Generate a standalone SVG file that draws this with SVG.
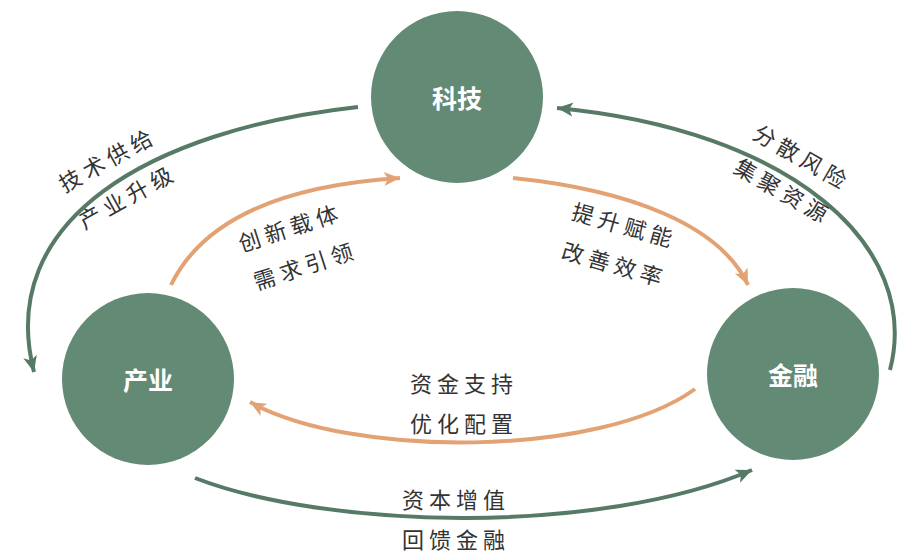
<svg xmlns="http://www.w3.org/2000/svg" width="912" height="555" viewBox="0 0 912 555">
<defs>
<style>
.node{fill:#638a74;}
.nlabel{font-family:"Noto Sans CJK SC","Noto Sans",sans-serif;font-weight:bold;font-size:25px;fill:#ffffff;text-anchor:middle;dominant-baseline:central;}
.elabel{font-family:"Noto Sans CJK SC","Noto Sans",sans-serif;font-weight:normal;font-size:22px;fill:#333333;text-anchor:middle;dominant-baseline:central;letter-spacing:5px;}
.g{fill:none;stroke:#567a66;stroke-width:4;}
.o{fill:none;stroke:#e3a273;stroke-width:4;}
</style>
<marker id="ag" markerUnits="userSpaceOnUse" markerWidth="20" markerHeight="16" refX="16" refY="7" orient="auto" viewBox="0 0 20 14">
<path d="M0,0 L16,7 L0,14 L4,7 Z" fill="#567a66"/>
</marker>
<marker id="ao" markerUnits="userSpaceOnUse" markerWidth="20" markerHeight="16" refX="16" refY="7" orient="auto" viewBox="0 0 20 14">
<path d="M0,0 L16,7 L0,14 L4,7 Z" fill="#e3a273"/>
</marker>
</defs>
<rect width="912" height="555" fill="#ffffff"/>
<g id="connectors">
<path class="g" d="M358,107 C150,130 -5,220 34,372" marker-end="url(#ag)"/>
<path class="g" d="M890,370 C922,245 790,130 557,108" marker-end="url(#ag)"/>
<path class="o" d="M171,285 C205,215 290,185 400,178" marker-end="url(#ao)"/>
<path class="o" d="M513,178 C630,190 720,225 748,285" marker-end="url(#ao)"/>
<path class="o" d="M695,389 C600,458 350,458 250,402" marker-end="url(#ao)"/>
<path class="g" d="M195,478 C330,530 600,535 752,470" marker-end="url(#ag)"/>
</g>
<g id="labels">
<text class="elabel" transform="translate(107,158) rotate(-29)">技术供给</text>
<text class="elabel" transform="translate(127,195) rotate(-29)">产业升级</text>
<text class="elabel" transform="translate(290,226) rotate(-18)">创新载体</text>
<text class="elabel" transform="translate(305,264) rotate(-18)">需求引领</text>
<text class="elabel" transform="translate(625,224) rotate(16)">提升赋能</text>
<text class="elabel" transform="translate(615,263) rotate(16)">改善效率</text>
<text class="elabel" transform="translate(803,156) rotate(30)">分散风险</text>
<text class="elabel" transform="translate(784,190) rotate(30)">集聚资源</text>
<text class="elabel" x="464" y="382">资金支持</text>
<text class="elabel" x="464" y="422">优化配置</text>
<text class="elabel" x="456" y="498">资本增值</text>
<text class="elabel" x="456" y="538">回馈金融</text>
</g>
<g id="node-tech">
<circle class="node" cx="457" cy="97" r="86"/>
<text class="nlabel" x="457" y="97">科技</text>
</g>
<g id="node-industry">
<circle class="node" cx="148" cy="379" r="86"/>
<text class="nlabel" x="148" y="379">产业</text>
</g>
<g id="node-finance">
<circle class="node" cx="793" cy="374" r="86"/>
<text class="nlabel" x="793" y="374">金融</text>
</g>
</svg>
